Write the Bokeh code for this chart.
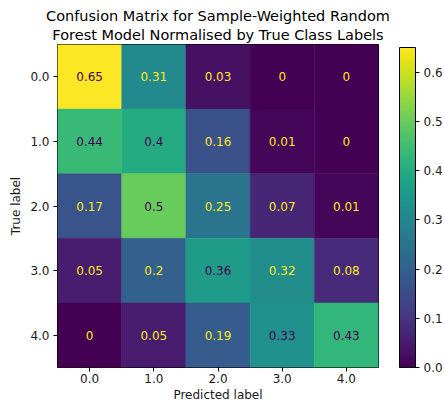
from bokeh.plotting import figure
from bokeh.models import (ColumnDataSource, LinearColorMapper, ColorBar, FixedTicker,
                          Range1d, PrintfTickFormatter, Title)
from bokeh.palettes import Viridis256
from bokeh.core.properties import value
from bokeh.embed import file_html
from bokeh.resources import INLINE

classes = [0.0, 1.0, 2.0, 3.0, 4.0]
class_labels = ["0.0", "1.0", "2.0", "3.0", "4.0"]
row_0 = [0.65, 0.31, 0.03, 0.0, 0.0]
row_1 = [0.44, 0.4, 0.16, 0.01, 0.0]
row_2 = [0.17, 0.5, 0.25, 0.07, 0.01]
row_3 = [0.05, 0.2, 0.36, 0.32, 0.08]
row_4 = [0.0, 0.05, 0.19, 0.33, 0.43]
rows = [row_0, row_1, row_2, row_3, row_4]
cbar_ticks = [0.0, 0.1, 0.2, 0.3, 0.4, 0.5, 0.6]
title_lines = ["Confusion Matrix for Sample-Weighted Random",
               "Forest Model Normalised by True Class Labels"]

vmin, vmax = 0.0, 0.65
thresh = (vmin + vmax) / 2.0

xs, ys, vs, labels, tcolors = [], [], [], [], []
for i, row in enumerate(rows):
    for j, v in enumerate(row):
        xs.append(j)
        ys.append(i)
        vs.append(v)
        labels.append(format(v, ".2g"))
        tcolors.append(Viridis256[-1] if v < thresh else Viridis256[0])

src = ColumnDataSource(dict(x=xs, y=ys, v=vs, label=labels, tc=tcolors))
mapper = LinearColorMapper(palette=Viridis256, low=vmin, high=vmax)

FONT = "DejaVu Sans"
FS = "12px"

p = figure(frame_width=321, frame_height=323, output_backend="svg", toolbar_location=None,
           x_range=Range1d(-0.5, 4.5), y_range=Range1d(4.5, -0.5),
           min_border_left=57, min_border_right=66, min_border_top=44, min_border_bottom=36)
p.title.visible = False
p.background_fill_color = "white"
p.border_fill_color = "white"
p.outline_line_color = "black"
p.outline_line_width = 1
p.grid.visible = False

p.rect(x="x", y="y", width=1, height=1, source=src,
       fill_color={"field": "v", "transform": mapper},
       line_color={"field": "v", "transform": mapper}, line_width=0.5)
p.text(x="x", y="y", text="label", source=src, text_color="tc",
       text_align="center", text_baseline="middle",
       text_font=value(FONT), text_font_size=FS)

for ax in (p.xaxis[0], p.yaxis[0]):
    ax.ticker = FixedTicker(ticks=classes)
    ax.major_label_overrides = {c: l for c, l in zip(classes, class_labels)}
    ax.axis_line_color = None
    ax.major_tick_in = 0
    ax.major_tick_out = 4
    ax.minor_tick_line_color = None
    ax.major_tick_line_color = "black"
    ax.major_label_text_font = FONT
    ax.major_label_text_font_size = FS
    ax.major_label_text_color = "#1a1a1a"
    ax.axis_label_text_font = FONT
    ax.axis_label_text_font_size = FS
    ax.axis_label_text_font_style = "normal"
    ax.axis_label_text_color = "#1a1a1a"
    ax.major_label_standoff = 4
    ax.axis_label_standoff = 4

p.xaxis.major_label_standoff = 2
p.xaxis.axis_label_standoff = 2
p.xaxis.axis_label = "Predicted label"
p.yaxis.axis_label = "True label"

t2 = Title(text=title_lines[1], align="center", text_font=FONT, text_font_size="14.5px",
           text_font_style="normal", text_color="#000000", standoff=3)
t1 = Title(text=title_lines[0], align="center", text_font=FONT, text_font_size="14.5px",
           text_font_style="normal", text_color="#000000", standoff=0)
p.add_layout(t2, "above")
p.add_layout(t1, "above")

cb = ColorBar(color_mapper=mapper, ticker=FixedTicker(ticks=cbar_ticks),
              formatter=PrintfTickFormatter(format="%.1f"),
              width=16, height=320, padding=0, margin=0, location=(342, 0),
              bar_line_color="black", bar_line_width=1,
              major_tick_in=0, major_tick_out=4, major_tick_line_color="black",
              minor_tick_line_color=None,
              major_label_text_font=FONT, major_label_text_font_size=FS,
              major_label_text_color="#1a1a1a", label_standoff=4,
              background_fill_color=None, border_line_color=None)
p.add_layout(cb, "center")

open("out.html", "w").write(file_html(p, INLINE))
